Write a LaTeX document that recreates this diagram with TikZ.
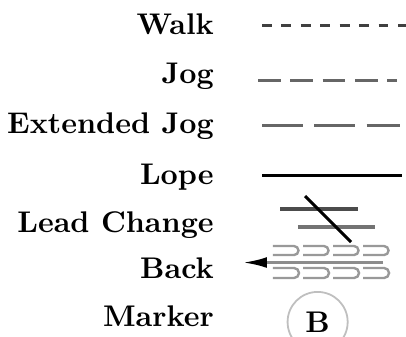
\documentclass[tikz,border=0pt]{standalone}
\usepackage{tikz}
\usetikzlibrary{arrows.meta}

\begin{document}
\begin{tikzpicture}
                    \tikzstyle{gaitlabel}=[anchor=base east,inner sep=0pt,font=\bfseries]
                    \tikzstyle{walkline}=[line width=1pt,black!75,dash pattern=on 3.3pt off 3.2pt]
                    \tikzstyle{jogline}=[line width=1pt,black!60,dash pattern=on 7.6pt off 3.2pt]
                    \tikzstyle{extjogline}=[line width=1pt,black!60,dash pattern=on 13.7pt off 3.8pt]
                    \tikzstyle{lopeline}=[line width=1pt,black]
                    \tikzstyle{backdash}=[line width=0.8pt,black!40]
                    \useasboundingbox (0,0) rectangle (4.774,3.951);
                    % labels
                    \node[gaitlabel] (walk)   at (2.52,3.540) {Walk};
                    \node[gaitlabel] (jog)    at (2.52,2.975) {Jog};
                    \node[gaitlabel] (extjog) at (2.52,2.387) {Extended Jog};
                    \node[gaitlabel] (lope)   at (2.52,1.776) {Lope};
                    \node[gaitlabel] (lead)   at (2.52,1.223) {Lead Change};
                    \node[gaitlabel] (back)   at (2.52,0.682) {Back};
                    \node[gaitlabel] (marker) at (2.52,0.106) {Marker};
                    % line ends
                    \coordinate (walk a) at (3.081,3.649);   \coordinate (walk b) at (4.774,3.649);
                    \coordinate (jog a) at (3.034,3.010);    \coordinate (jog b) at (4.668,3.010);
                    \coordinate (extjog a) at (3.081,2.481); \coordinate (extjog b) at (4.704,2.481);
                    \coordinate (lope a) at (3.081,1.893);   \coordinate (lope b) at (4.727,1.893);
                    \draw[walkline] (walk a) -- (walk b);
                    \draw[jogline] (jog a) -- (jog b);
                    \draw[extjogline] (extjog a) -- (extjog b);
                    \draw[lopeline] (lope a) -- (lope b);
                    % lead change
                    \coordinate (lead a) at (3.293,1.493); \coordinate (lead b) at (4.210,1.493);
                    \coordinate (lead c) at (3.504,1.282); \coordinate (lead d) at (4.410,1.282);
                    \coordinate (lead e) at (3.587,1.646); \coordinate (lead f) at (4.127,1.105);
                    \draw[line width=1.1pt,black!70] (lead a) -- (lead b);
                    \draw[line width=1.6pt,black!55] (lead c) -- (lead d);
                    \draw[line width=1pt,black] (lead e) -- (lead f);
                    % back
                    \coordinate (back a) at (4.504,0.864); \coordinate (back b) at (2.857,0.864);
                    \draw[line width=0.9pt,black!45,-{Latex[color=black,length=8pt,width=3.6pt]}] (back a) -- (back b);
                    \foreach \i in {0,...,3} {
                        \draw[backdash] (3.21+\i*0.353,1.058) -- ++(0.247,0) arc (90:-90:0.053) -- ++(-0.247,0);
                        \draw[backdash] (3.21+\i*0.353,0.800) -- ++(0.247,0) arc (90:-90:0.059) -- ++(-0.247,0);
                    }
                    % marker
                    \node[circle,draw=black!25,line width=0.6pt,font=\bfseries] (mark) at (3.735,0.165) {B};
                \end{tikzpicture}
\end{document}
